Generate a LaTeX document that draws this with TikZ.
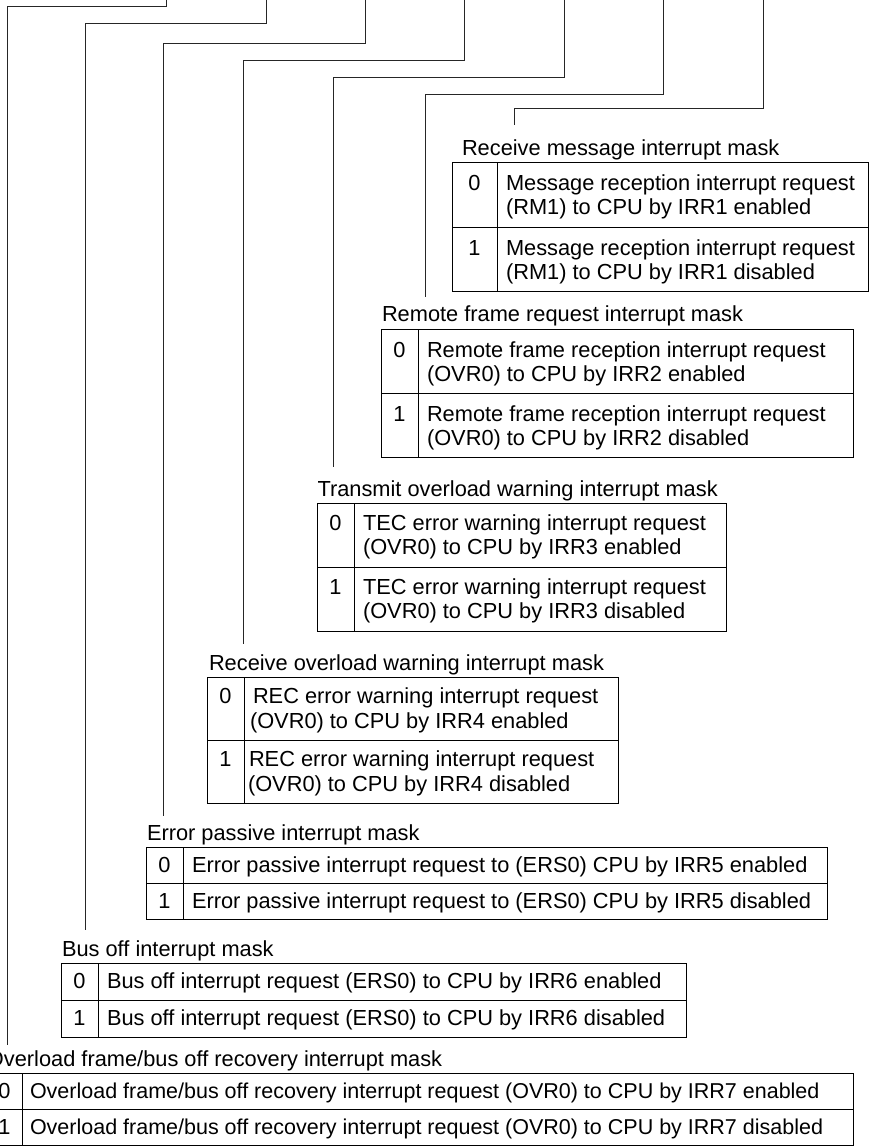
\documentclass[tikz,border=0pt]{standalone}
\usepackage{fontspec}
\setmainfont{Liberation Sans}
\tikzset{
  every node/.style={inner sep=0pt, outer sep=0pt, font=\fontsize{21.8}{24}\selectfont},
  lbl/.style={anchor=base west},
  num/.style={anchor=base},
  txt/.style={anchor=base west},
  txtsm/.style={anchor=base west, font=\fontsize{21.5}{24}\selectfont},
  wire/.style={line width=0.9pt, black!85},
  tab/.style={line width=1pt, black}
}
\begin{document}
\begin{tikzpicture}[x=1pt,y=-1pt]
\useasboundingbox (0,0) rectangle (869,1146);

% ---- connectors ----
\coordinate (c1t) at (763,0);   \coordinate (c1l) at (514,108);  \coordinate (c1e) at (514,125);
\coordinate (c2t) at (663,0);   \coordinate (c2l) at (425,94);   \coordinate (c2e) at (425,297);
\coordinate (c3t) at (564,0);   \coordinate (c3l) at (333,77);   \coordinate (c3e) at (333,467);
\coordinate (c4t) at (464,0);   \coordinate (c4l) at (243,60);   \coordinate (c4e) at (243,644);
\coordinate (c5t) at (365,0);   \coordinate (c5l) at (163,43);   \coordinate (c5e) at (163,816);
\coordinate (c6t) at (266,0);   \coordinate (c6l) at (85,23);    \coordinate (c6e) at (85,930);
\coordinate (c7t) at (166,0);   \coordinate (c7l) at (7,6);      \coordinate (c7e) at (7,1045);
\foreach \i in {1,...,7} \draw[wire] (c\i t) |- (c\i l) -- (c\i e);

% ---- table 1 ----
\node[lbl] (l1) at (462,155) {Receive message interrupt mask};
\draw[tab] (452,162) rectangle (868,291);
\draw[tab] (497,162) -- (497,291) (452,227) -- (868,227);
\node[num] (t1n0) at (474.5,190) {0};
\node[txt] (t1a) at (506,190) {Message reception interrupt request};
\node[txt] (t1b) at (506,214.5) {(RM1) to CPU by IRR1 enabled};
\node[num] (t1n1) at (474.5,255) {1};
\node[txt] (t1c) at (506,255) {Message reception interrupt request};
\node[txt] (t1d) at (506,279.5) {(RM1) to CPU by IRR1 disabled};

% ---- table 2 ----
\node[lbl] (l2) at (382,321) {Remote frame request interrupt mask};
\draw[tab] (381,329) rectangle (853,457);
\draw[tab] (418,329) -- (418,457) (381,393) -- (853,393);
\node[num] (t2n0) at (399.5,357) {0};
\node[txt] (t2a) at (427,357) {Remote frame reception interrupt request};
\node[txt] (t2b) at (427,381.5) {(OVR0) to CPU by IRR2 enabled};
\node[num] (t2n1) at (399.5,421) {1};
\node[txt] (t2c) at (427,421) {Remote frame reception interrupt request};
\node[txt] (t2d) at (427,445.5) {(OVR0) to CPU by IRR2 disabled};

% ---- table 3 ----
\node[lbl] (l3) at (317.5,496) {Transmit overload warning interrupt mask};
\draw[tab] (317,503) rectangle (726,631);
\draw[tab] (354,503) -- (354,631) (317,567) -- (726,567);
\node[num] (t3n0) at (335.5,530) {0};
\node[txt] (t3a) at (363,530) {TEC error warning interrupt request};
\node[txt] (t3b) at (363,554.5) {(OVR0) to CPU by IRR3 enabled};
\node[num] (t3n1) at (335.5,594) {1};
\node[txt] (t3c) at (363,594) {TEC error warning interrupt request};
\node[txt] (t3d) at (363,618.5) {(OVR0) to CPU by IRR3 disabled};

% ---- table 4 ----
\node[lbl] (l4) at (209,670) {Receive overload warning interrupt mask};
\draw[tab] (207,677) rectangle (618,803);
\draw[tab] (244,677) -- (244,803) (207,740) -- (618,740);
\node[num] (t4n0) at (225.5,703.5) {0};
\node[txt] (t4a) at (253,703.5) {REC error warning interrupt request};
\node[txt] (t4b) at (250,728) {(OVR0) to CPU by IRR4 enabled};
\node[num] (t4n1) at (225.5,766.5) {1};
\node[txt] (t4c) at (249,766.5) {REC error warning interrupt request};
\node[txt] (t4d) at (248,791) {(OVR0) to CPU by IRR4 disabled};

% ---- table 5 ----
\node[lbl] (l5) at (147,840) {Error passive interrupt mask};
\draw[tab] (146,847) rectangle (827,919);
\draw[tab] (183,847) -- (183,919) (146,883) -- (827,883);
\node[num] (t5n0) at (164.5,872.5) {0};
\node[txt] (t5a) at (192,872.5) {Error passive interrupt request to (ERS0) CPU by IRR5 enabled};
\node[num] (t5n1) at (164.5,908.5) {1};
\node[txt] (t5b) at (192,908.5) {Error passive interrupt request to (ERS0) CPU by IRR5 disabled};

% ---- table 6 ----
\node[lbl] (l6) at (62,956) {Bus off interrupt mask};
\draw[tab] (61,963) rectangle (686,1037);
\draw[tab] (98,963) -- (98,1037) (61,1000) -- (686,1000);
\node[num] (t6n0) at (79.5,988.5) {0};
\node[txt] (t6a) at (107,988.5) {Bus off interrupt request (ERS0) to CPU by IRR6 enabled};
\node[num] (t6n1) at (79.5,1025.5) {1};
\node[txt] (t6b) at (107,1025.5) {Bus off interrupt request (ERS0) to CPU by IRR6 disabled};

% ---- table 7 ----
\node[lbl] (l7) at (-13,1066) {Overload frame/bus off recovery interrupt mask};
\draw[tab] (-15,1073) rectangle (853,1145);
\draw[tab] (22,1073) -- (22,1145) (-15,1109) -- (853,1109);
\node[num] (t7n0) at (4.5,1098.5) {0};
\node[txtsm] (t7a) at (30,1098.5) {Overload frame/bus off recovery interrupt request (OVR0) to CPU by IRR7 enabled};
\node[num] (t7n1) at (4.5,1134.5) {1};
\node[txtsm] (t7b) at (30,1134.5) {Overload frame/bus off recovery interrupt request (OVR0) to CPU by IRR7 disabled};
\end{tikzpicture}
\end{document}
